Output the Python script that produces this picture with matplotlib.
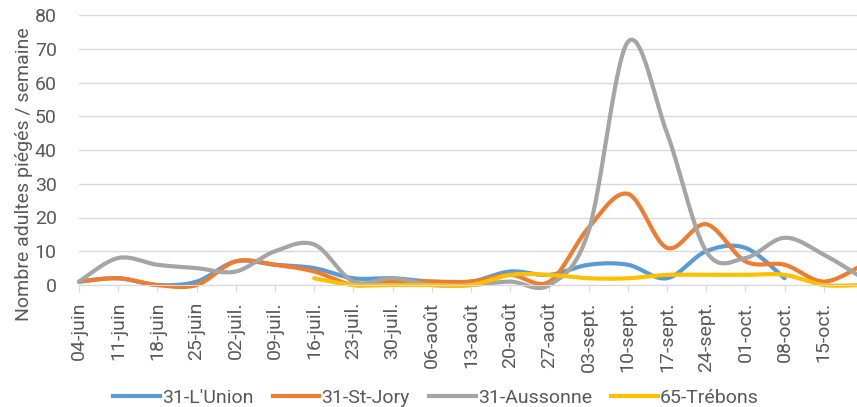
import numpy as np
import matplotlib.pyplot as plt
from matplotlib.lines import Line2D

plt.rcParams['font.family'] = ['Roboto', 'DejaVu Sans']

# semaines (la derniere est hors du cadre)
dates = ["04-juin", "11-juin", "18-juin", "25-juin", "02-juil.", "09-juil.",
         "16-juil.", "23-juil.", "30-juil.", "06-août", "13-août", "20-août",
         "27-août", "03-sept.", "10-sept.", "17-sept.", "24-sept.", "01-oct.",
         "08-oct.", "15-oct.", "22-oct."]

lunion = [1, 2, 0, 1, 7, 6, 5, 2, 2, 1, 1, 4, 3, 6, 6, 2, 10, 11, 2, None, None]
stjory = [1, 2, 0, 0, 7, 6, 4, 0, 1, 1, 1, 3, 1, 17, 27, 11, 18, 7, 6, 1, 6]
aussonne = [1, 8, 6, 5, 4, 10, 12, 1, 2, 0, 0, 1, 0, 16, 72, 45, 10, 8, 14, 9, 2]
trebons = [None, None, None, None, None, None, 2, 0, 0, 0, 0, 3, 3, 2, 2, 3,
           3, 3, 3, 0, 0]

series = [("31-L'Union", lunion, "#5B9BD5"),
          ("31-St-Jory", stjory, "#ED7D31"),
          ("31-Aussonne", aussonne, "#A5A5A5"),
          ("65-Trébons", trebons, "#FFC000")]

TXT = "#595959"


def smooth(xs, ys, n=30):
    # courbe lissee facon Excel (Catmull-Rom en Bezier)
    pts = np.column_stack([xs, ys]).astype(float)
    if len(pts) < 3:
        return pts[:, 0], pts[:, 1]
    out = []
    for i in range(len(pts) - 1):
        p0 = pts[max(i - 1, 0)]
        p1 = pts[i]
        p2 = pts[i + 1]
        p3 = pts[min(i + 2, len(pts) - 1)]
        c1 = p1 + (p2 - p0) / 6
        c2 = p2 - (p3 - p1) / 6
        t = np.linspace(0, 1, n)[:, None]
        seg = ((1 - t) ** 3) * p1 + 3 * ((1 - t) ** 2) * t * c1 \
            + 3 * (1 - t) * t ** 2 * c2 + t ** 3 * p2
        out.append(seg if i == 0 else seg[1:])
    out = np.vstack(out)
    return out[:, 0], out[:, 1]


fig = plt.figure(figsize=(8.57, 4.07), dpi=100)
ax = fig.add_axes([79 / 857, 122 / 407, 778 / 857, 270 / 407])

for name, vals, col in series:
    xs = [i for i, v in enumerate(vals) if v is not None]
    ys = [v for v in vals if v is not None]
    sx, sy = smooth(xs, ys)
    ax.plot(sx, sy, color=col, lw=3, solid_capstyle='round', clip_on=False,
            label=name)

ax.set_xlim(0, 778 / 39.2)
ax.set_ylim(0, 80)
ax.set_yticks(range(0, 81, 10))
ax.set_xticks(range(20))
ax.set_xticklabels(dates[:20], rotation=90, va='top', ha='center')
ax.tick_params(axis='x', length=5, color='#D9D9D9', labelsize=14,
               labelcolor=TXT, pad=7)
ax.tick_params(axis='y', length=0, labelsize=14, labelcolor=TXT, pad=16)
ax.grid(axis='y', color='#D9D9D9', lw=1)
ax.set_axisbelow(True)
for s in ['top', 'right', 'left']:
    ax.spines[s].set_visible(False)
ax.spines['bottom'].set_color('#D9D9D9')

fig.text(24 / 857, 1 - 174 / 407, "Nombre adultes piégés / semaine",
         rotation=90, ha='center', va='center', fontsize=14, color=TXT)

handles = [Line2D([], [], color=c, lw=3) for _, _, c in series]
fig.legend(handles, [n for n, _, _ in series], loc='center',
           bbox_to_anchor=(436 / 857, 1 - 398 / 407), ncol=4, frameon=False,
           fontsize=14, labelcolor=TXT, handlelength=2.4, handletextpad=0.1,
           columnspacing=1.0)

fig.savefig("out.png", dpi=100)
